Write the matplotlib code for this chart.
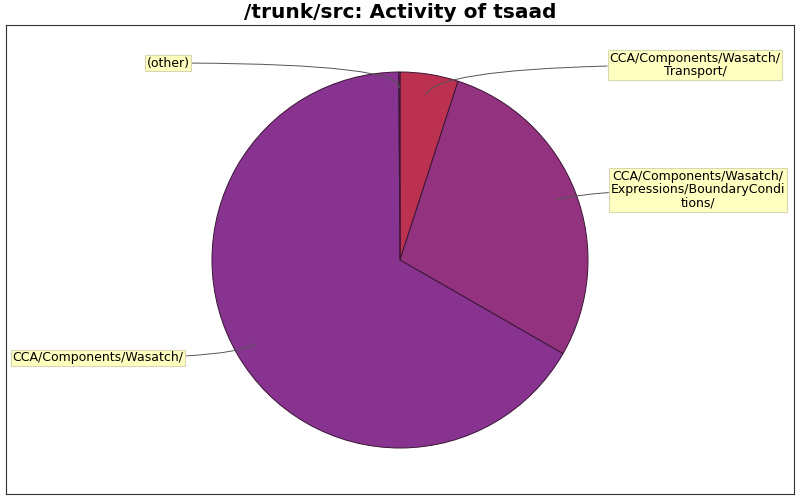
import numpy as np
import matplotlib
matplotlib.use("Agg")
import matplotlib.pyplot as plt

labels = ["CCA/Components/Wasatch/\nTransport/",
          "CCA/Components/Wasatch/\nExpressions/BoundaryCondi\ntions/",
          "CCA/Components/Wasatch/",
          "(other)"]
values = [5.0, 28.3, 66.6, 0.1]
colors = ["#BC3150", "#93337F", "#88338F", "#88338F"]

W, H = 800, 500
fig = plt.figure(figsize=(8, 5), dpi=100)
ax_l, ax_b, ax_w, ax_h = 6, 6, 788, 469
ax = fig.add_axes([ax_l / W, ax_b / H, ax_w / W, ax_h / H])
ax.set_aspect("equal")
for s in ax.spines.values():
    s.set_linewidth(0.8)
    s.set_color("#333333")

cx, cy = 400 - ax_l, H - 260 - ax_b
R = 188
wedges, _ = ax.pie(values, colors=colors, startangle=90, counterclock=False,
                   center=(cx, cy), radius=R, frame=True,
                   wedgeprops=dict(edgecolor="#3a1535", linewidth=0.7))
ax.set_xlim(0, ax_w)
ax.set_ylim(0, ax_h)
ax.set_xticks([]); ax.set_yticks([])

# label box positions (pixel coords of figure, y from top)
text_pos = [(695, 65), (698, 190), (98, 358), (168, 63)]
angB = [70, 15, 30, 90]
rfrac = [0.89, 0.89, 0.89, 0.915]
for w, lab, (tx, ty), ab, rf in zip(wedges, labels, text_pos, angB, rfrac):
    mid = np.deg2rad((w.theta1 + w.theta2) / 2)
    px = cx + R * rf * np.cos(mid)
    py = cy + R * rf * np.sin(mid)
    ax.annotate(lab, xy=(px, py), xytext=(tx - ax_l, H - ty - ax_b),
                ha="center", va="center", fontsize=9, family="DejaVu Sans",
                linespacing=1.05,
                bbox=dict(boxstyle="square,pad=0.15", fc="#FFFFC0", ec="#D8D8B0", lw=0.8),
                arrowprops=dict(arrowstyle="-", color="#555555", lw=0.7,
                                connectionstyle=f"angle3,angleA=0,angleB={ab}",
                                shrinkA=0, shrinkB=0))

fig.text(0.5, 1 - 13 / H, "/trunk/src: Activity of tsaad", ha="center", va="center",
         fontsize=14.5, fontweight="bold", family="DejaVu Sans")
fig.savefig("out.png", dpi=100)
